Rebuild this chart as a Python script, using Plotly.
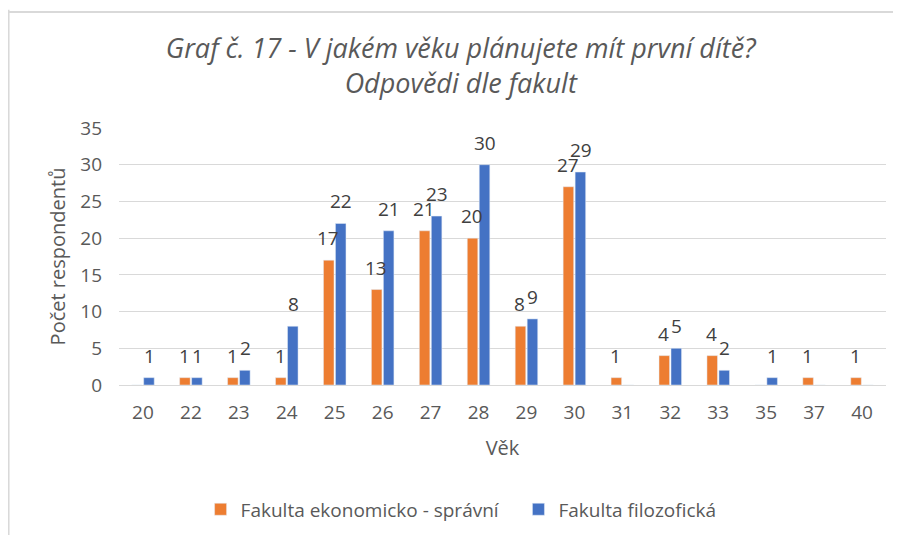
import plotly.graph_objects as go

ages = ["20", "22", "23", "24", "25", "26", "27", "28", "29", "30", "31", "32", "33", "35", "37", "40"]
ekonomicko_spravni = [0, 1, 1, 1, 17, 13, 21, 20, 8, 27, 1, 4, 4, 0, 1, 1]
filozoficka = [1, 1, 2, 8, 22, 21, 23, 30, 9, 29, 0, 5, 2, 1, 0, 0]
y_ticks = [0, 5, 10, 15, 20, 25, 30, 35]

FONT = "Open Sans, sans-serif"
TXT = "#595959"
LBL = "#404040"

fig = go.Figure()
fig.add_trace(go.Bar(
    x=ages, y=ekonomicko_spravni, name="Fakulta ekonomicko - správní\u00a0\u00a0\u00a0",
    marker_color="#ED7D31", cliponaxis=False,
))
fig.add_trace(go.Bar(
    x=ages, y=filozoficka, name="Fakulta filozofická",
    marker_color="#4472C4", cliponaxis=False,
))

annotations = []
for series, shift in ((ekonomicko_spravni, -6.5), (filozoficka, 6.5)):
    for idx, val in enumerate(series):
        if val == 0:
            continue
        annotations.append(dict(
            x=idx, y=val, xref="x", yref="y", text=str(val), showarrow=False,
            xanchor="center", yanchor="middle", xshift=shift, yshift=22,
            font=dict(family=FONT, size=19, color=LBL),
        ))

fig.update_layout(
    width=893, height=527,
    paper_bgcolor="white", plot_bgcolor="white",
    margin=dict(l=111, r=15, t=120, b=150, autoexpand=False),
    barmode="group", bargap=0.5, bargroupgap=0.12,
    font=dict(family=FONT, size=18, color=TXT),
    title=dict(
        text="Graf č. 17 - V jakém věku plánujete mít první dítě?<br>Odpovědi dle fakult",
        x=0.507, xanchor="center", y=0.906, yanchor="middle",
        font=dict(family=FONT, size=27, color=TXT, style="italic"),
    ),
    legend=dict(orientation="h", x=0.446, xanchor="center", y=-0.484, yanchor="middle",
                font=dict(family=FONT, size=19, color=TXT), itemwidth=30),
    showlegend=True,
    annotations=annotations,
    shapes=[
        dict(type="line", xref="paper", yref="paper", x0=-0.144, x1=-0.144, y0=-0.6, y1=1.46,
             line=dict(color="#D9D9D9", width=2)),
        dict(type="line", xref="paper", yref="paper", x0=-0.15, x1=1.1, y0=1.451, y1=1.451,
             line=dict(color="#D9D9D9", width=2)),
    ],
)
fig.update_xaxes(
    type="category", range=[-0.5, len(ages) - 0.5], showgrid=False, showline=True,
    linecolor="#D9D9D9", linewidth=1,
    ticks="", ticklabelstandoff=10, automargin=False,
    tickfont=dict(family=FONT, size=19, color=TXT),
    title=dict(text="Věk", font=dict(family=FONT, size=20, color=TXT), standoff=17),
)
fig.update_yaxes(
    range=[0, 35], tickvals=y_ticks, showgrid=True, gridcolor="#D9D9D9", gridwidth=1,
    zeroline=False, showline=False, ticks="", ticklabelstandoff=16, automargin=False,
    tickfont=dict(family=FONT, size=19, color=TXT),
    title=dict(text="Počet respondentů", font=dict(family=FONT, size=20, color=TXT), standoff=9),
)

fig.write_html("out.html")
